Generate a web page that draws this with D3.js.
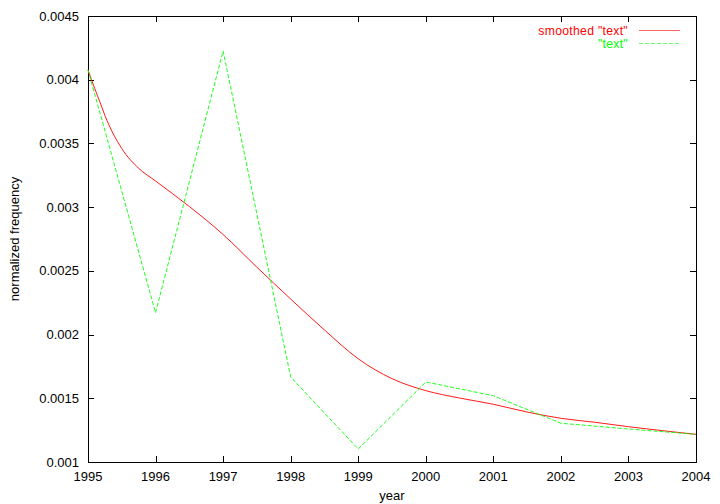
<!DOCTYPE html>
<html><head><meta charset="utf-8">
<script src="https://cdn.jsdelivr.net/npm/d3@7"></script>
<style>
html,body{margin:0;padding:0;background:#fff;}
text{font-family:"Liberation Sans",Arial,Helvetica,sans-serif;}
</style></head>
<body>
<svg id="chart" width="720" height="504"></svg>
<script>
// Raw series "text"
const years = [1995,1996,1997,1998,1999,2000,2001,2002,2003,2004];
const textValues = [0.004077,0.002172,0.004226,0.001667,0.001102,0.001628,0.00152,0.001304,0.001259,0.001217];
// Smoothed series
const smoothX = [1995,1995.1,1995.18,1995.25,1995.5,1995.75,1996,1996.5,1997,1997.5,1998,1998.5,1999,1999.5,2000,2000.5,2001,2001.5,2002,2002.5,2003,2003.5,2004];
const smoothY = [0.004077,0.00393,0.00382,0.00372,0.00346,0.003305,0.003205,0.003005,0.002785,0.002529,0.002279,0.002036,0.00181,0.001654,0.00156,0.001502,0.001453,0.001392,0.001343,0.001312,0.001277,0.001246,0.001217];
const xTicks = [1995,1996,1997,1998,1999,2000,2001,2002,2003,2004];
const yTicks = [0.001,0.0015,0.002,0.0025,0.003,0.0035,0.004,0.0045];
const yTickLabels = ["0.001","0.0015","0.002","0.0025","0.003","0.0035","0.004","0.0045"];
const seriesNames = ['smoothed "text"','"text"'];
const seriesColors = ["#ff0000","#00ff00"];

const svg = d3.select("#chart");
const L=88, R=696, T=16, B=462;
const x = d3.scaleLinear().domain([1995,2004]).range([L,R]);
const y = d3.scaleLinear().domain([0.001,0.0045]).range([B,T]);
const tl = 6;

const g = svg.append("g");
xTicks.forEach(v=>{
  const px = Math.round(x(v))+0.5;
  g.append("line").attr("x1",px).attr("x2",px).attr("y1",B).attr("y2",B-tl).attr("stroke","#000");
  g.append("line").attr("x1",px).attr("x2",px).attr("y1",T).attr("y2",T+tl).attr("stroke","#000");
  g.append("text").attr("x",x(v)).attr("y",481).attr("text-anchor","middle").attr("font-size",13).text(v);
});
yTicks.forEach((v,i)=>{
  const py = Math.round(y(v))+0.5;
  g.append("line").attr("x1",L).attr("x2",L+tl).attr("y1",py).attr("y2",py).attr("stroke","#000");
  g.append("line").attr("x1",R).attr("x2",R-tl).attr("y1",py).attr("y2",py).attr("stroke","#000");
  g.append("text").attr("x",79).attr("y",y(v)+4.5).attr("text-anchor","end").attr("font-size",13).text(yTickLabels[i]);
});
g.append("rect").attr("x",L+0.5).attr("y",T+0.5).attr("width",R-L).attr("height",B-T)
  .attr("fill","none").attr("stroke","#000");

svg.append("text").attr("x",(L+R)/2).attr("y",500).attr("text-anchor","middle").attr("font-size",13).text("year");
svg.append("text").attr("transform",`translate(19,${(T+B)/2}) rotate(-90)`).attr("text-anchor","middle").attr("font-size",13).text("normalized frequency");

const smoothLine = d3.line().x(d=>x(d[0])).y(d=>y(d[1])).curve(d3.curveMonotoneX);
svg.append("path").datum(smoothX.map((v,i)=>[v,smoothY[i]]))
  .attr("d",smoothLine).attr("fill","none").attr("stroke",seriesColors[0]).attr("stroke-width",0.9);
const rawLine = d3.line().x(d=>x(d[0])).y(d=>y(d[1]));
svg.append("path").datum(years.map((v,i)=>[v,textValues[i]]))
  .attr("d",rawLine).attr("fill","none").attr("stroke",seriesColors[1]).attr("stroke-width",0.9).attr("stroke-dasharray","4,2");

const leg = svg.append("g");
seriesNames.forEach((n,i)=>{
  const ly = 30.5 + i*13;
  leg.append("text").attr("x",628).attr("y",ly+4.3).attr("text-anchor","end").attr("font-size",12.2)
    .attr("letter-spacing","0.3").attr("fill",seriesColors[i]).text(n);
  leg.append("line").attr("x1",639).attr("x2",680).attr("y1",ly).attr("y2",ly)
    .attr("stroke",seriesColors[i]).attr("stroke-opacity",0.6).attr("stroke-dasharray",i===1?"4,2":null);
});
</script>
</body></html>
